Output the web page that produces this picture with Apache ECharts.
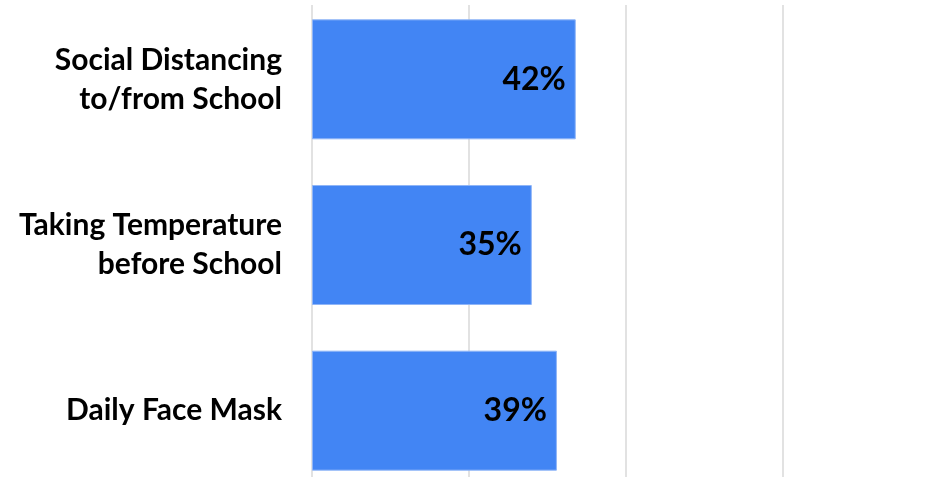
<!DOCTYPE html>
<html>
<head>
<meta charset="utf-8">
<script src="https://cdn.jsdelivr.net/npm/echarts@6/dist/echarts.min.js"></script>
<style>
  html, body { margin: 0; padding: 0; background: #ffffff; }
  #chart { width: 932px; height: 477px; }
</style>
</head>
<body>
<div id="chart"></div>
<script>
// School safety measures, share of respondents
const categories = ['Social Distancing\nto/from School', 'Taking Temperature\nbefore School', 'Daily Face Mask'];
const values = [42, 35, 39];
const axisTicks = [0, 25, 50, 75, 100];

const chart = echarts.init(document.getElementById('chart'), null, { renderer: 'canvas' });

chart.setOption({
  animation: false,
  backgroundColor: '#ffffff',
  // plot area runs slightly past the right and bottom edges of the canvas
  grid: {
    left: 312, top: -3.5, width: 628, height: 497,
    containLabel: false,
    outerBoundsMode: 'none'
  },
  xAxis: {
    type: 'value',
    min: axisTicks[0],
    max: axisTicks[axisTicks.length - 1],
    interval: axisTicks[1] - axisTicks[0],
    axisLabel: { show: false },
    axisLine: { show: false },
    axisTick: { show: false },
    splitLine: { show: true, lineStyle: { color: '#d9d9d9', width: 1.5 } }
  },
  yAxis: {
    type: 'category',
    inverse: true,
    data: categories,
    axisLine: { show: false },
    axisTick: { show: false },
    axisLabel: {
      margin: 30,
      color: '#000000',
      fontFamily: 'Lato',
      fontWeight: 'bold',
      fontSize: 30,
      lineHeight: 39,
      align: 'right'
    }
  },
  series: [{
    type: 'bar',
    data: values,
    barWidth: 120,
    itemStyle: { color: '#4285f4', borderColor: '#8fb5f7', borderWidth: 1 },
    label: {
      show: true,
      position: 'insideRight',
      distance: 10,
      formatter: p => p.value + '%',
      color: '#000000',
      fontFamily: 'Lato',
      fontWeight: 'bold',
      fontSize: 32
    }
  }],
  graphic: [{
    type: 'rect',
    left: 0,
    top: 0,
    shape: { width: 932, height: 5 },
    style: { fill: '#ffffff' },
    z: 100
  }]
});
</script>
</body>
</html>
